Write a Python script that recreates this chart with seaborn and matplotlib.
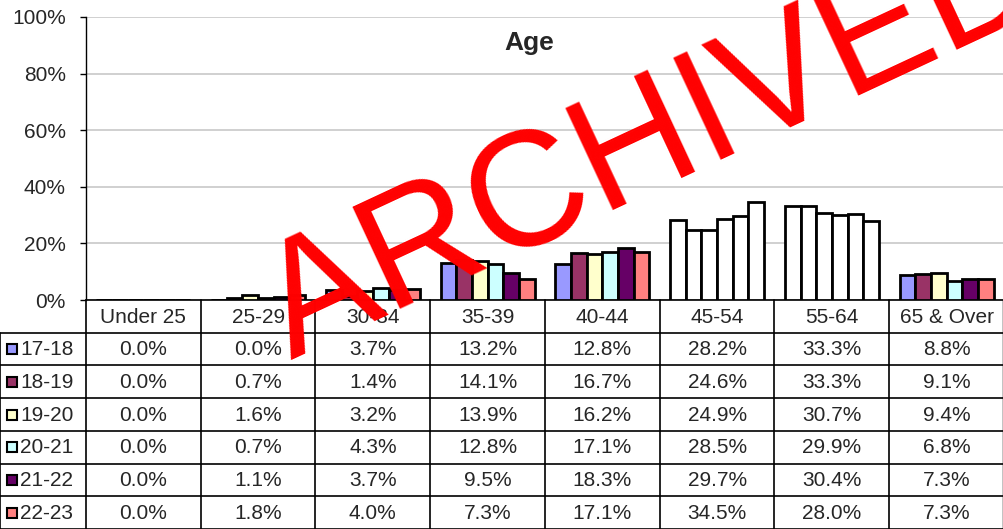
import numpy as np
import pandas as pd
import matplotlib
matplotlib.use("Agg")
import matplotlib.pyplot as plt
from matplotlib.patches import Rectangle
from matplotlib.ticker import PercentFormatter
import seaborn as sns

# ── Data ───────────────────────────────────────────────────────────
AGE_GROUPS = ["Under 25", "25-29", "30-34", "35-39", "40-44", "45-54", "55-64", "65 & Over"]
YEARS = ["17-18", "18-19", "19-20", "20-21", "21-22", "22-23"]
PCT_17_18 = [0.0, 0.0, 3.7, 13.2, 12.8, 28.2, 33.3, 8.8]
PCT_18_19 = [0.0, 0.7, 1.4, 14.1, 16.7, 24.6, 33.3, 9.1]
PCT_19_20 = [0.0, 1.6, 3.2, 13.9, 16.2, 24.9, 30.7, 9.4]
PCT_20_21 = [0.0, 0.7, 4.3, 12.8, 17.1, 28.5, 29.9, 6.8]
PCT_21_22 = [0.0, 1.1, 3.7, 9.5, 18.3, 29.7, 30.4, 7.3]
PCT_22_23 = [0.0, 1.8, 4.0, 7.3, 17.1, 34.5, 28.0, 7.3]
SERIES = [PCT_17_18, PCT_18_19, PCT_19_20, PCT_20_21, PCT_21_22, PCT_22_23]
COLORS = ["#9999FF", "#993366", "#FFFFCC", "#CCFFFF", "#660066", "#FF8080"]
WHITE_GROUPS = ["45-54", "55-64"]
Y_TICKS = [0, 20, 40, 60, 80, 100]

df = pd.DataFrame(
    [(age, yr, v) for yr, vals in zip(YEARS, SERIES) for age, v in zip(AGE_GROUPS, vals)],
    columns=["age", "year", "pct"],
)

# ── Figure ─────────────────────────────────────────────────────────
sns.set_style("white")
plt.rcParams["font.family"] = ["Liberation Sans", "DejaVu Sans"]

W, H = 1004, 529
fig = plt.figure(figsize=(W / 100, H / 100), dpi=100)

left_px, top_px, axis_px = 86, 17, 300
ax = fig.add_axes([left_px / W, (H - axis_px) / H, (W - left_px) / W, (axis_px - top_px) / H])

sns.barplot(
    data=df, x="age", y="pct", hue="year", order=AGE_GROUPS, hue_order=YEARS,
    palette=COLORS, saturation=1, width=0.82, edgecolor="black", linewidth=2,
    legend=False, ax=ax, zorder=3,
)
for cont in ax.containers:
    for age, bar in zip(AGE_GROUPS, cont):
        if age in WHITE_GROUPS:
            bar.set_facecolor("white")

ax.set_xlim(-0.5, len(AGE_GROUPS) - 0.5)
ax.set_ylim(0, 100)
ax.set_yticks(Y_TICKS)
ax.yaxis.set_major_formatter(PercentFormatter(decimals=0))
ax.tick_params(axis="y", labelsize=15, length=4.5, width=1, color="black",
               direction="out", left=True, pad=10)
ax.tick_params(axis="x", bottom=False, labelbottom=False)
ax.set_xlabel("")
ax.set_ylabel("")
ax.yaxis.grid(True, color="#C8C8C8", linewidth=1.2)
ax.set_axisbelow(True)
for s in ["top", "right"]:
    ax.spines[s].set_visible(False)
ax.spines["left"].set_color("black")
ax.spines["bottom"].set_color("black")
ax.spines["left"].set_linewidth(1)
ax.spines["bottom"].set_linewidth(1.2)

ax.text((529 - left_px) / (W - left_px), (axis_px - 43) / (axis_px - top_px), "Age",
        transform=ax.transAxes, ha="center", va="center", fontsize=19, fontweight="bold")

# ── Data table ─────────────────────────────────────────────────────
cat_px = (W - left_px) / len(AGE_GROUPS)
x0 = -0.5 - left_px / cat_px
n_rows = len(YEARS) + 1
row_px = (H - axis_px) / n_rows
tab = fig.add_axes([0, 0, 1, (H - axis_px) / H])
tab.set_xlim(x0, len(AGE_GROUPS) - 0.5)
tab.set_ylim(n_rows, 0)
tab.axis("off")

line_kw = dict(color="black", linewidth=1.2, clip_on=False)
for i in range(len(AGE_GROUPS)):
    tab.plot([i - 0.5, i - 0.5], [0, n_rows], **line_kw)
tab.plot([x0, x0], [1, n_rows], **line_kw)
for r in range(1, n_rows + 1):
    tab.plot([x0, len(AGE_GROUPS) - 0.5], [r, r], **line_kw)
tab.plot([len(AGE_GROUPS) - 0.5] * 2, [0, n_rows], color="black", linewidth=2.5, clip_on=False)

for i, age in enumerate(AGE_GROUPS):
    tab.text(i, 0.52, age, ha="center", va="center", fontsize=15)

sq_w = 10 / cat_px
sq_h = 10 / row_px
for r, (yr, vals, col) in enumerate(zip(YEARS, SERIES, COLORS), start=1):
    tab.add_patch(Rectangle((x0 + 7 / cat_px, r + 0.5 - sq_h / 2), sq_w, sq_h,
                            facecolor=col, edgecolor="black", linewidth=1.5, clip_on=False))
    tab.text(x0 + 20 / cat_px, r + 0.52, yr, ha="left", va="center", fontsize=15)
    for i, v in enumerate(vals):
        tab.text(i, r + 0.52, f"{v:.1f}%", ha="center", va="center", fontsize=15)

# ── Watermark ──────────────────────────────────────────────────────
fig.text(291 / W, 1 - 360 / H, "ARCHIVED", rotation=25, rotation_mode="anchor",
         ha="left", va="baseline", color="red", fontsize=117, zorder=10)

fig.savefig("out.png", dpi=100)
plt.close(fig)
